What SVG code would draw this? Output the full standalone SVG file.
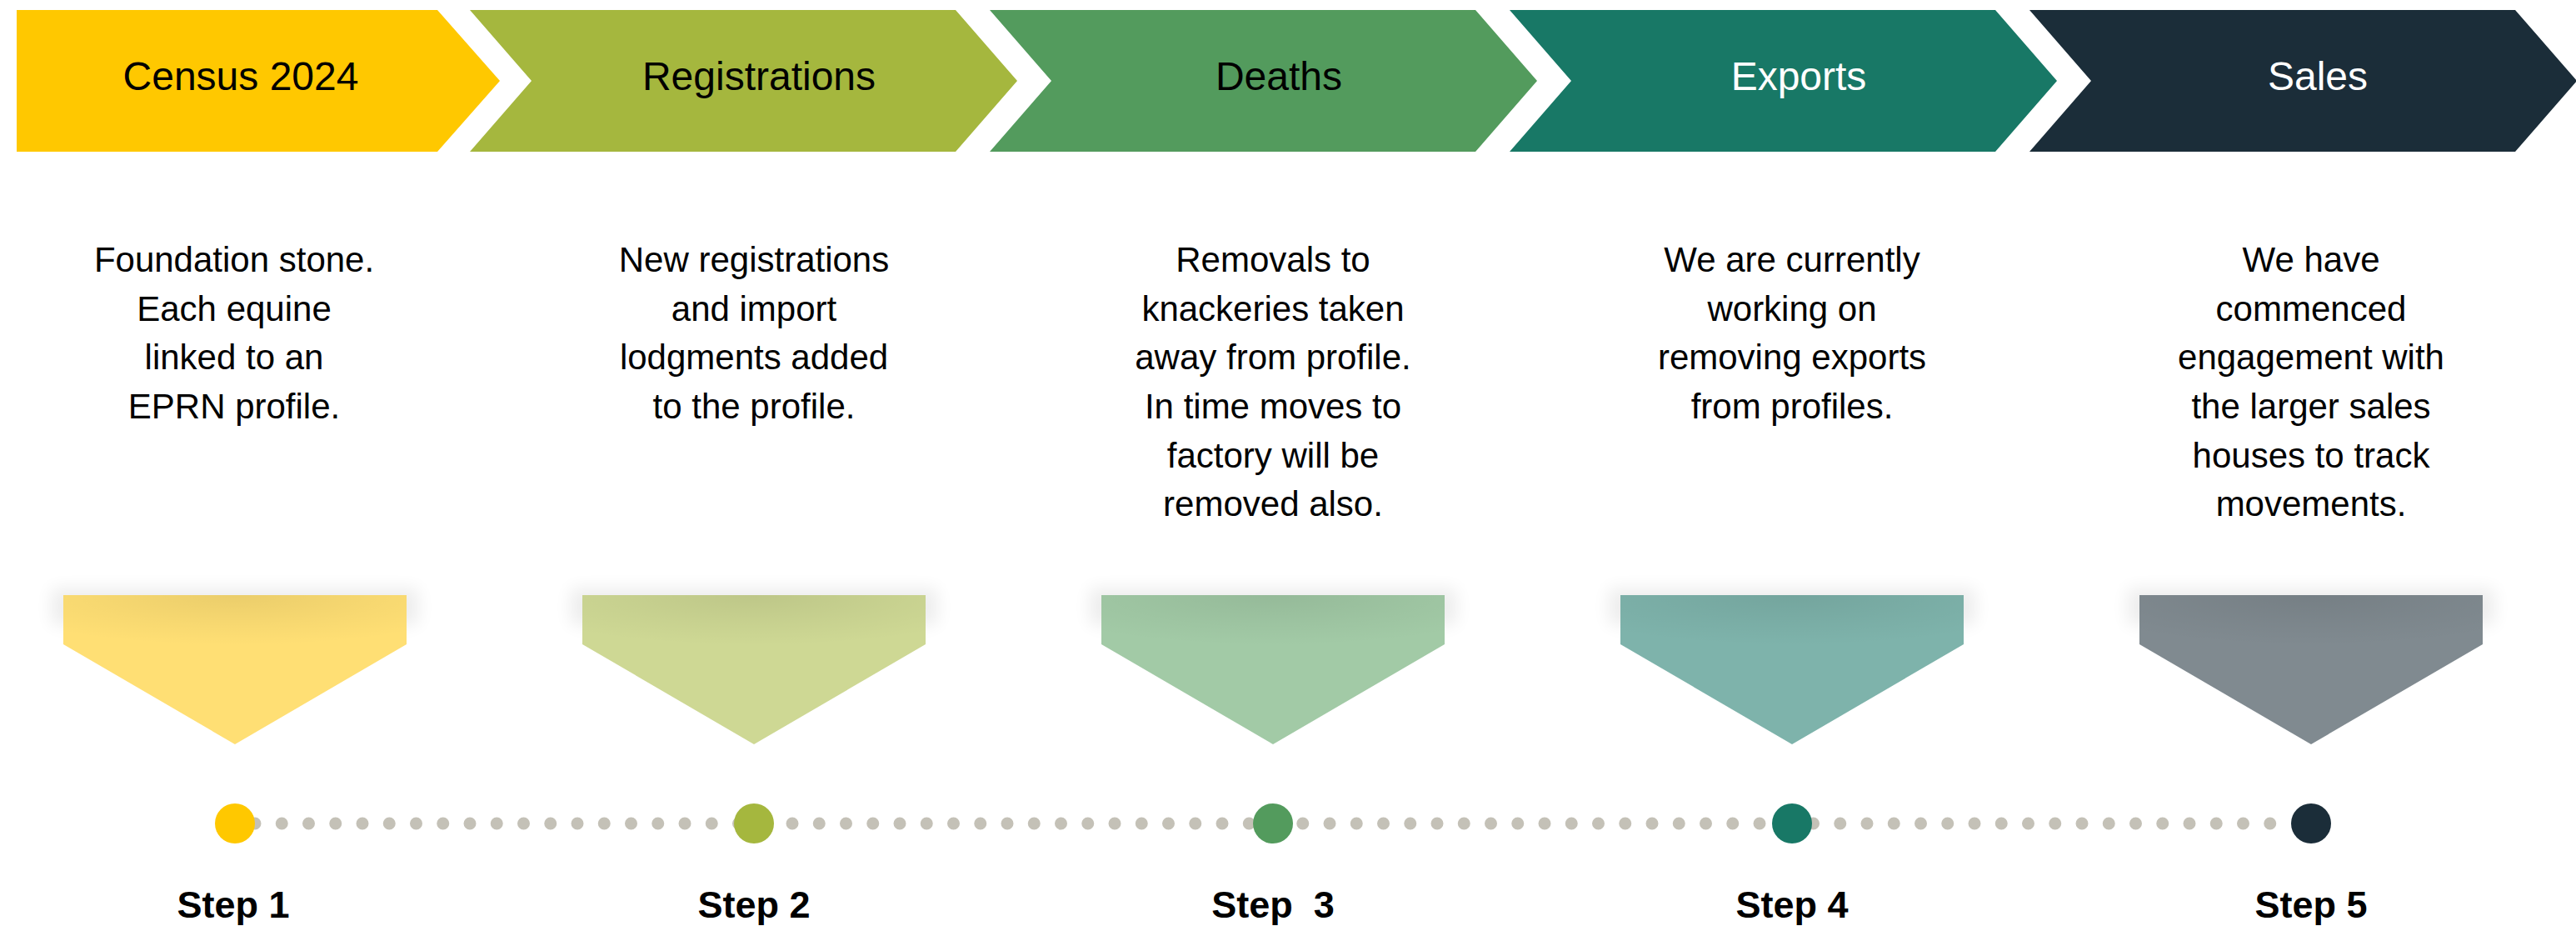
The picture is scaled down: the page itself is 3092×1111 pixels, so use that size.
<svg xmlns="http://www.w3.org/2000/svg" width="3092" height="1111" viewBox="0 0 3092 1111">
  <style>
    .hdr { font-family: "Liberation Sans", Arial, sans-serif; font-size: 48px; text-anchor: middle; }
    .body { font-family: "Liberation Sans", Arial, sans-serif; font-size: 42px; text-anchor: middle; fill: #000000; }
    .step { font-family: "Liberation Sans", Arial, sans-serif; font-size: 45px; font-weight: bold; text-anchor: middle; fill: #000000; white-space: pre; }
  </style>
  <defs>
    <filter id="soft" x="-20%" y="-100%" width="140%" height="300%">
      <feGaussianBlur stdDeviation="10"/>
    </filter>
    <radialGradient id="topShade" cx="0.5" cy="0" r="0.75" fx="0.5" fy="0" gradientTransform="translate(0.5,0) scale(1,0.45) translate(-0.5,0)">
      <stop offset="0" stop-color="#000000" stop-opacity="0.08"/>
      <stop offset="0.6" stop-color="#000000" stop-opacity="0.03"/>
      <stop offset="1" stop-color="#000000" stop-opacity="0"/>
    </radialGradient>
    <path id="pent" d="M-206,0 L206,0 L206,59 L0,179 L-206,59 Z"/>
  </defs>
  <rect width="3092" height="1111" fill="#ffffff"/>

  <!-- Header chevrons -->
  <g id="census">
    <path d="M20,12 L525,12 L600,97 L525,182 L20,182 Z" fill="#FFC800"/>
    <text class="hdr" x="289" y="108" fill="#000000">Census 2024</text>
  </g>
  <g id="registrations">
    <path d="M564,12 L1147,12 L1221,97 L1147,182 L564,182 L638,97 Z" fill="#A5B73E"/>
    <text class="hdr" x="911" y="108" fill="#000000">Registrations</text>
  </g>
  <g id="deaths">
    <path d="M1188,12 L1771,12 L1845,97 L1771,182 L1188,182 L1262,97 Z" fill="#539B5D"/>
    <text class="hdr" x="1535" y="108" fill="#000000">Deaths</text>
  </g>
  <g id="exports">
    <path d="M1812,12 L2395,12 L2469,97 L2395,182 L1812,182 L1886,97 Z" fill="#187866"/>
    <text class="hdr" x="2159" y="108" fill="#ffffff">Exports</text>
  </g>
  <g id="sales">
    <path d="M2436,12 L3019,12 L3093,97 L3019,182 L2436,182 L2510,97 Z" fill="#1B2D39"/>
    <text class="hdr" x="2782" y="108" fill="#ffffff">Sales</text>
  </g>

  <!-- Descriptions -->
  <g id="desc1">
    <text class="body" x="281" y="326">Foundation stone.</text>
    <text class="body" x="281" y="385">Each equine</text>
    <text class="body" x="281" y="443">linked to an</text>
    <text class="body" x="281" y="502">EPRN profile.</text>
  </g>
  <g id="desc2">
    <text class="body" x="905" y="326">New registrations</text>
    <text class="body" x="905" y="385">and import</text>
    <text class="body" x="905" y="443">lodgments added</text>
    <text class="body" x="905" y="502">to the profile.</text>
  </g>
  <g id="desc3">
    <text class="body" x="1528" y="326">Removals to</text>
    <text class="body" x="1528" y="385">knackeries taken</text>
    <text class="body" x="1528" y="443">away from profile.</text>
    <text class="body" x="1528" y="502">In time moves to</text>
    <text class="body" x="1528" y="561">factory will be</text>
    <text class="body" x="1528" y="619">removed also.</text>
  </g>
  <g id="desc4">
    <text class="body" x="2151" y="326">We are currently</text>
    <text class="body" x="2151" y="385">working on</text>
    <text class="body" x="2151" y="443">removing exports</text>
    <text class="body" x="2151" y="502">from profiles.</text>
  </g>
  <g id="desc5">
    <text class="body" x="2774" y="326">We have</text>
    <text class="body" x="2774" y="385">commenced</text>
    <text class="body" x="2774" y="443">engagement with</text>
    <text class="body" x="2774" y="502">the larger sales</text>
    <text class="body" x="2774" y="561">houses to track</text>
    <text class="body" x="2774" y="619">movements.</text>
  </g>

  <!-- Pointer pentagons -->
  <g id="pointer1" transform="translate(282,714)">
    <rect x="-220" y="-8" width="440" height="44" fill="#000000" opacity="0.07" filter="url(#soft)"/>
    <use href="#pent" fill="#FFDF74"/>
    <use href="#pent" fill="url(#topShade)"/>
  </g>
  <g id="pointer2" transform="translate(905,714)">
    <rect x="-220" y="-8" width="440" height="44" fill="#000000" opacity="0.07" filter="url(#soft)"/>
    <use href="#pent" fill="#CED894"/>
    <use href="#pent" fill="url(#topShade)"/>
  </g>
  <g id="pointer3" transform="translate(1528,714)">
    <rect x="-220" y="-8" width="440" height="44" fill="#000000" opacity="0.07" filter="url(#soft)"/>
    <use href="#pent" fill="#A2CAA6"/>
    <use href="#pent" fill="url(#topShade)"/>
  </g>
  <g id="pointer4" transform="translate(2151,714)">
    <rect x="-220" y="-8" width="440" height="44" fill="#000000" opacity="0.07" filter="url(#soft)"/>
    <use href="#pent" fill="#7EB3AB"/>
    <use href="#pent" fill="url(#topShade)"/>
  </g>
  <g id="pointer5" transform="translate(2774,714)">
    <rect x="-220" y="-8" width="440" height="44" fill="#000000" opacity="0.07" filter="url(#soft)"/>
    <use href="#pent" fill="#808A90"/>
    <use href="#pent" fill="url(#topShade)"/>
  </g>

  <!-- Connectors: dotted timeline -->
  <g id="connectors">
    <line x1="306" y1="988" x2="2725" y2="988" stroke="#C4C1B7" stroke-width="15" stroke-linecap="round" stroke-dasharray="0 32.25"/>
  </g>

  <!-- Timeline markers -->
  <g id="marker1"><circle cx="282" cy="988" r="24" fill="#FFC800"/><text class="step" x="280" y="1101">Step 1</text></g>
  <g id="marker2"><circle cx="905" cy="988" r="24" fill="#A5B73E"/><text class="step" x="905" y="1101">Step 2</text></g>
  <g id="marker3"><circle cx="1528" cy="988" r="24" fill="#539B5D"/><text class="step" x="1528" y="1101" xml:space="preserve">Step  3</text></g>
  <g id="marker4"><circle cx="2151" cy="988" r="24" fill="#187866"/><text class="step" x="2151" y="1101">Step 4</text></g>
  <g id="marker5"><circle cx="2774" cy="988" r="24" fill="#1B2D39"/><text class="step" x="2774" y="1101">Step 5</text></g>
</svg>
